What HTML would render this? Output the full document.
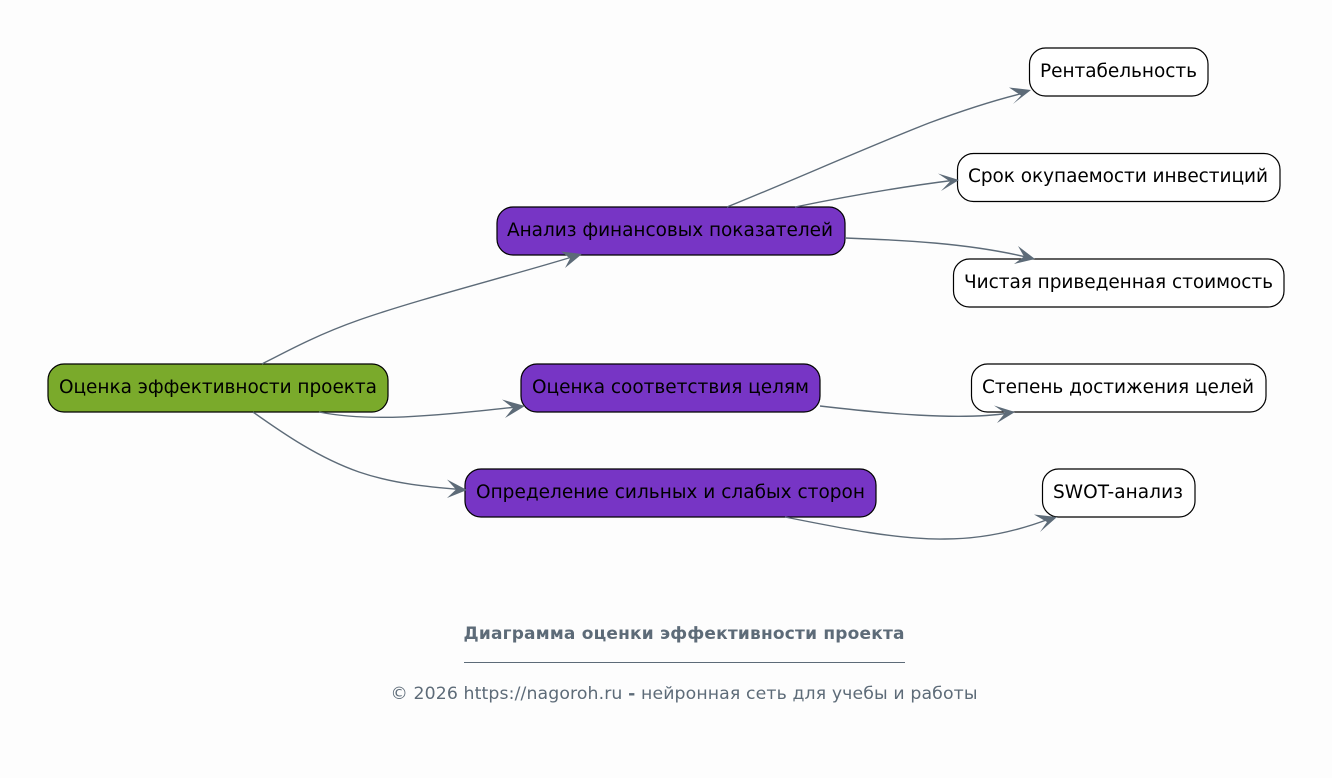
<!DOCTYPE html>
<html><head><meta charset="utf-8"><style>
html,body{margin:0;padding:0;background:#fdfdfd}
svg{display:block}
text{font-family:"DejaVu Sans",sans-serif}
.n{font-size:18.5px;fill:#000;text-anchor:middle}
.e{fill:none;stroke:#5d6b78;stroke-width:1.4}
.a{fill:#5d6b78;stroke:none}
rect{stroke-width:1.2}
</style></head><body>
<svg width="1332" height="778" viewBox="0 0 1332 778" xmlns="http://www.w3.org/2000/svg">
<rect width="1332" height="778" fill="#fdfdfd" style="stroke:none"/>
<rect x="48" y="364" width="340" height="48" rx="16" fill="#7aaa2b" stroke="#000"/>
<rect x="497" y="207" width="348" height="48" rx="16" fill="#7735c5" stroke="#000"/>
<rect x="521" y="364" width="299" height="48" rx="16" fill="#7735c5" stroke="#000"/>
<rect x="465" y="469" width="411" height="48" rx="16" fill="#7735c5" stroke="#000"/>
<rect x="1029.500" y="48" width="178.500" height="48" rx="16" fill="#fff" stroke="#000"/>
<rect x="957.500" y="153.500" width="322.500" height="48" rx="16" fill="#fff" stroke="#000"/>
<rect x="953.500" y="259" width="330.500" height="48" rx="16" fill="#fff" stroke="#000"/>
<rect x="971.500" y="364" width="294.500" height="48" rx="16" fill="#fff" stroke="#000"/>
<rect x="1042.500" y="469" width="152.500" height="48" rx="16" fill="#fff" stroke="#000"/>
<path class="e" d="M262 364C289 350 319 334 359 320C419 299 510 276 572 257"/>
<path class="e" d="M319 412C374 423 440 415 517 407"/>
<path class="e" d="M253 412C284 434 319 458 359 472C394 484 430 487 460 489.500"/>
<path class="e" d="M727 207C789 182 870 146 929 123C964 110 995 100 1024 93"/>
<path class="e" d="M795 207C849 196 900 187 952 180.500"/>
<path class="e" d="M845 238C900 240 970 243 1030 258"/>
<path class="e" d="M820 406C880 413 960 421 1009 413"/>
<path class="e" d="M785 517C840 528 900 540 945 539C985 539 1020 530 1049 519"/>
<path class="a" d="M582 254L561 251.500L570 258.500L565 268Z"/>
<path class="a" d="M525 406L502 399.500L513 408L505 418Z"/>
<path class="a" d="M467 490L447 479.500L456 489.500L447 498Z"/>
<path class="a" d="M1031 90L1009 87.500L1021 95.500L1013 104Z"/>
<path class="a" d="M959 180L938 173.500L950 181.500L941 191Z"/>
<path class="a" d="M1035 259L1018 246L1024 256.500L1014 264Z"/>
<path class="a" d="M1015 412L994 405.500L1005 413L997 423Z"/>
<path class="a" d="M1057 517L1034 514.500L1047 522L1040 532Z"/>
<text class="n" x="218" y="393" textLength="318">Оценка эффективности проекта</text>
<text class="n" x="670" y="236" textLength="326">Анализ финансовых показателей</text>
<text class="n" x="670.500" y="393" textLength="277">Оценка соответствия целям</text>
<text class="n" x="670.500" y="498" textLength="389">Определение сильных и слабых сторон</text>
<text class="n" x="1118.500" y="77" textLength="157">Рентабельность</text>
<text class="n" x="1118" y="182" textLength="300">Срок окупаемости инвестиций</text>
<text class="n" x="1118.500" y="288" textLength="309">Чистая приведенная стоимость</text>
<text class="n" x="1118" y="393" textLength="272">Степень достижения целей</text>
<text class="n" x="1118" y="498" textLength="130">SWOT-анализ</text>
<text x="684" y="639" text-anchor="middle" font-size="17" font-weight="bold" fill="#5d6b78" textLength="441">Диаграмма оценки эффективности проекта</text>
<line x1="464" y1="662.500" x2="905" y2="662.500" stroke="#5d6b78" stroke-width="1"/>
<text x="684" y="699" text-anchor="middle" font-size="17.300" fill="#5d6b78" textLength="587">© 2026 https://nagoroh.ru <tspan font-weight="bold">-</tspan> нейронная сеть для учебы и работы</text>
</svg>
</body></html>
